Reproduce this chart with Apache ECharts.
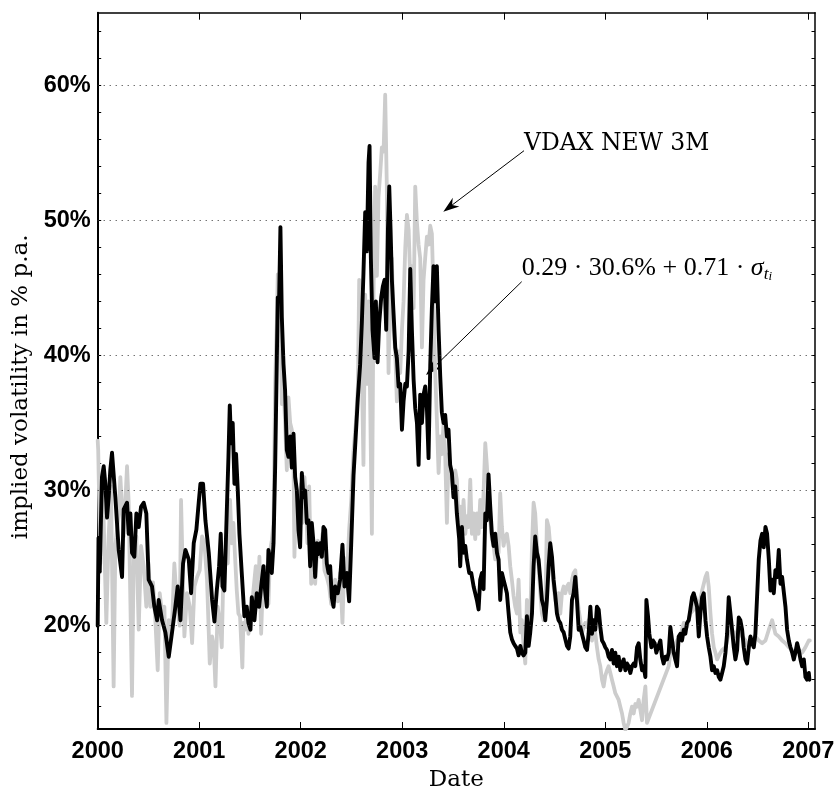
<!DOCTYPE html>
<html>
<head>
<meta charset="utf-8">
<script src="https://cdn.jsdelivr.net/npm/echarts@6/dist/echarts.min.js"></script>
<style>
  html, body { margin: 0; padding: 0; background: #ffffff; }
  #chart { width: 839px; height: 790px; }
</style>
</head>
<body>
<div id="chart"></div>
<script>
// Each pair: [years elapsed since 1 Jan 2000, implied volatility in % p.a.]
const epochYear = 2000;

// VDAX NEW 3M quotes
const vdaxNew3M = [
  [0.000, 33.7], [0.005, 33.0], [0.026, 24.6], [0.042, 30.3], [0.059, 27.8], [0.085, 20.2],
  [0.108, 26.6], [0.131, 30.3], [0.157, 15.5], [0.174, 25.9], [0.207, 28.3], [0.223, 31.0],
  [0.256, 26.6], [0.289, 31.8], [0.305, 29.1], [0.338, 14.8], [0.355, 25.4], [0.381, 26.6],
  [0.404, 19.7], [0.427, 25.9], [0.453, 24.4], [0.479, 21.4], [0.502, 24.6], [0.519, 21.4],
  [0.545, 23.2], [0.568, 20.4], [0.591, 16.7], [0.611, 22.4], [0.634, 20.9], [0.657, 21.4],
  [0.677, 12.8], [0.700, 20.4], [0.732, 20.0], [0.755, 24.6], [0.782, 21.4], [0.808, 20.0],
  [0.821, 29.3], [0.841, 22.9], [0.854, 19.2], [0.880, 22.4], [0.907, 21.4], [0.930, 18.7],
  [0.953, 22.9], [0.979, 23.6], [1.005, 24.1], [1.028, 26.6], [1.051, 26.1], [1.077, 23.4],
  [1.104, 17.2], [1.127, 19.2], [1.143, 18.5], [1.160, 15.5], [1.182, 21.4], [1.205, 20.2],
  [1.222, 18.4], [1.238, 23.9], [1.261, 25.1], [1.281, 24.6], [1.304, 29.3], [1.320, 26.1],
  [1.337, 27.6], [1.353, 25.1], [1.370, 22.6], [1.386, 20.9], [1.402, 20.7], [1.425, 16.9],
  [1.435, 20.2], [1.452, 19.7], [1.468, 21.4], [1.485, 19.4], [1.501, 20.4], [1.518, 21.2],
  [1.534, 22.6], [1.557, 24.4], [1.577, 21.4], [1.593, 25.1], [1.610, 19.4], [1.633, 24.4],
  [1.649, 23.1], [1.666, 24.4], [1.682, 21.6], [1.699, 25.6], [1.715, 26.3], [1.732, 27.6],
  [1.748, 37.9], [1.764, 42.3], [1.774, 46.0], [1.787, 44.1], [1.800, 42.8], [1.814, 36.4],
  [1.830, 37.9], [1.846, 35.0], [1.863, 31.5], [1.879, 36.9], [1.896, 35.0], [1.912, 34.5],
  [1.929, 32.0], [1.938, 25.1], [1.955, 30.0], [1.971, 26.8], [1.984, 28.5], [2.004, 30.5],
  [2.017, 27.6], [2.037, 31.0], [2.050, 29.3], [2.066, 26.1], [2.083, 30.3], [2.103, 23.1],
  [2.126, 25.6], [2.142, 23.1], [2.168, 26.3], [2.192, 25.1], [2.215, 26.8], [2.234, 24.1],
  [2.257, 23.6], [2.280, 22.9], [2.300, 21.6], [2.323, 23.1], [2.339, 23.4], [2.365, 21.8],
  [2.388, 23.9], [2.411, 20.2], [2.431, 25.0], [2.454, 23.4], [2.477, 27.1], [2.497, 29.2],
  [2.520, 32.9], [2.543, 35.0], [2.563, 37.7], [2.576, 45.6], [2.595, 41.9], [2.618, 31.9],
  [2.635, 44.5], [2.651, 37.9], [2.668, 44.0], [2.684, 36.6], [2.701, 26.8], [2.717, 44.5],
  [2.733, 52.5], [2.750, 45.9], [2.766, 51.7], [2.783, 53.5], [2.799, 55.4], [2.816, 55.1],
  [2.832, 59.3], [2.848, 52.5], [2.865, 38.7], [2.881, 44.5], [2.898, 47.2], [2.915, 41.9],
  [2.931, 40.3], [2.947, 36.6], [2.964, 40.3], [2.980, 38.7], [2.997, 41.9], [3.013, 44.0],
  [3.030, 48.0], [3.046, 50.4], [3.063, 49.3], [3.079, 45.6], [3.095, 46.6], [3.112, 43.5],
  [3.128, 52.5], [3.145, 49.8], [3.161, 48.2], [3.177, 47.2], [3.194, 40.6], [3.210, 45.6],
  [3.226, 47.2], [3.243, 48.8], [3.259, 48.2], [3.276, 49.6], [3.292, 49.0], [3.308, 44.5],
  [3.325, 38.7], [3.341, 35.3], [3.358, 31.3], [3.374, 34.0], [3.390, 32.7], [3.407, 35.0],
  [3.423, 32.7], [3.440, 27.6], [3.456, 32.7], [3.472, 31.3], [3.489, 30.8], [3.505, 29.7],
  [3.522, 31.5], [3.538, 30.8], [3.555, 27.8], [3.571, 28.8], [3.588, 27.3], [3.604, 29.3],
  [3.621, 26.8], [3.637, 28.1], [3.653, 27.3], [3.670, 30.8], [3.686, 26.8], [3.703, 28.3],
  [3.719, 26.4], [3.735, 28.3], [3.752, 26.8], [3.768, 29.3], [3.785, 27.3], [3.801, 29.8],
  [3.818, 33.5], [3.834, 31.8], [3.850, 29.6], [3.867, 27.8], [3.883, 26.4], [3.900, 25.9],
  [3.916, 24.9], [3.933, 25.9], [3.949, 25.4], [3.965, 29.8], [3.982, 27.3], [3.998, 25.9],
  [4.015, 26.6], [4.031, 26.8], [4.048, 25.9], [4.064, 24.4], [4.080, 23.4], [4.097, 22.2],
  [4.113, 21.4], [4.130, 20.9], [4.146, 23.4], [4.163, 19.5], [4.179, 20.4], [4.195, 18.5],
  [4.212, 17.2], [4.228, 21.9], [4.245, 20.9], [4.261, 20.4], [4.278, 25.9], [4.294, 29.1],
  [4.310, 28.3], [4.327, 25.9], [4.343, 24.4], [4.360, 22.4], [4.376, 20.9], [4.393, 20.4],
  [4.409, 20.9], [4.425, 27.8], [4.442, 27.3], [4.458, 25.9], [4.475, 24.4], [4.491, 22.9],
  [4.508, 21.9], [4.524, 21.4], [4.540, 22.4], [4.557, 20.9], [4.573, 22.4], [4.590, 22.9],
  [4.606, 22.4], [4.623, 22.9], [4.639, 23.1], [4.655, 22.4], [4.672, 23.4], [4.688, 23.9],
  [4.705, 24.1], [4.721, 22.4], [4.738, 21.2], [4.754, 20.4], [4.770, 19.4], [4.787, 19.9],
  [4.803, 20.2], [4.820, 19.9], [4.836, 20.4], [4.853, 19.7], [4.869, 18.9], [4.885, 20.4],
  [4.902, 19.4], [4.918, 18.4], [4.935, 17.5], [4.951, 17.0], [4.968, 16.0], [4.984, 15.5],
  [5.000, 16.3], [5.017, 16.7], [5.033, 17.0], [5.050, 16.5], [5.066, 16.0], [5.083, 15.5],
  [5.099, 15.0], [5.115, 15.0], [5.132, 14.5], [5.148, 14.0], [5.165, 13.5], [5.181, 12.8],
  [5.198, 12.3], [5.214, 12.5], [5.230, 12.8], [5.247, 13.5], [5.263, 14.0], [5.280, 13.5],
  [5.296, 14.2], [5.313, 14.0], [5.329, 14.5], [5.345, 13.8], [5.362, 13.0], [5.378, 14.5],
  [5.395, 15.5], [5.411, 12.8], [5.625, 17.0], [5.641, 18.0], [5.674, 18.4], [5.707, 18.9],
  [5.740, 19.2], [5.773, 20.2], [5.805, 19.9], [5.838, 20.9], [5.871, 21.2], [5.888, 22.1],
  [5.921, 21.4], [5.954, 22.6], [5.987, 23.6], [6.003, 23.9], [6.019, 22.9], [6.036, 20.9],
  [6.052, 19.4], [6.069, 18.4], [6.085, 18.0], [6.102, 17.5], [6.118, 17.5], [6.134, 18.0],
  [6.151, 18.2], [6.184, 18.4], [6.216, 19.4], [6.249, 19.7], [6.282, 19.2], [6.315, 19.9],
  [6.348, 19.2], [6.381, 18.9], [6.414, 18.4], [6.446, 18.9], [6.479, 19.2], [6.512, 18.9],
  [6.545, 18.7], [6.578, 18.9], [6.611, 19.7], [6.644, 20.4], [6.660, 19.9], [6.676, 19.4],
  [6.709, 19.2], [6.742, 18.9], [6.775, 18.7], [6.808, 18.4], [6.841, 18.2], [6.873, 18.0],
  [6.906, 18.2], [6.939, 18.0], [6.972, 18.4], [7.005, 18.9], [7.015, 18.9]
];

// 0.29 * 30.6% + 0.71 * sigma_{t_i}
const blendedModel = [
  [0.000, 20.0], [0.008, 26.5], [0.020, 24.0], [0.042, 31.0], [0.059, 31.8], [0.075, 30.5],
  [0.092, 28.0], [0.108, 29.5], [0.124, 31.5], [0.141, 32.8], [0.174, 29.5], [0.207, 25.6],
  [0.240, 23.6], [0.256, 28.6], [0.289, 29.1], [0.305, 26.8], [0.322, 28.3], [0.338, 25.4],
  [0.361, 25.1], [0.381, 28.3], [0.404, 27.3], [0.427, 28.8], [0.453, 29.1], [0.479, 28.3],
  [0.502, 23.4], [0.535, 22.9], [0.558, 21.4], [0.585, 20.4], [0.601, 21.9], [0.634, 20.4],
  [0.667, 19.5], [0.700, 17.7], [0.732, 19.5], [0.765, 21.4], [0.788, 22.9], [0.815, 20.4],
  [0.841, 24.6], [0.864, 25.6], [0.897, 24.9], [0.920, 22.4], [0.946, 26.1], [0.972, 27.1],
  [0.995, 29.1], [1.012, 30.5], [1.038, 30.5], [1.061, 27.8], [1.094, 25.4], [1.127, 21.9],
  [1.150, 20.3], [1.173, 22.6], [1.196, 24.4], [1.212, 26.8], [1.229, 22.9], [1.248, 22.6],
  [1.271, 28.3], [1.288, 32.5], [1.301, 36.3], [1.314, 33.5], [1.330, 35.0], [1.347, 30.5],
  [1.363, 32.7], [1.380, 30.0], [1.396, 26.8], [1.419, 23.9], [1.445, 20.7], [1.468, 21.4],
  [1.485, 20.2], [1.505, 19.7], [1.518, 22.1], [1.544, 20.4], [1.567, 22.4], [1.590, 21.4],
  [1.610, 22.9], [1.633, 24.4], [1.649, 22.6], [1.666, 21.4], [1.682, 25.6], [1.699, 24.9],
  [1.715, 23.9], [1.732, 26.1], [1.748, 31.7], [1.764, 39.4], [1.774, 44.3], [1.787, 44.1],
  [1.800, 49.5], [1.814, 42.8], [1.830, 39.4], [1.846, 37.4], [1.863, 33.0], [1.879, 32.5],
  [1.896, 34.0], [1.912, 31.7], [1.929, 34.2], [1.945, 31.0], [1.962, 30.0], [1.978, 27.1],
  [1.994, 25.8], [2.011, 31.3], [2.027, 29.5], [2.044, 30.0], [2.060, 27.6], [2.076, 27.8],
  [2.093, 24.4], [2.109, 27.6], [2.126, 26.1], [2.142, 23.6], [2.159, 26.1], [2.175, 25.3],
  [2.192, 26.1], [2.208, 25.1], [2.224, 27.3], [2.241, 27.1], [2.257, 24.6], [2.274, 23.9],
  [2.290, 24.4], [2.306, 22.1], [2.323, 21.4], [2.339, 22.9], [2.365, 22.4], [2.388, 23.4],
  [2.411, 26.0], [2.431, 22.9], [2.454, 23.9], [2.477, 21.8], [2.497, 26.0], [2.520, 31.1],
  [2.543, 34.2], [2.563, 36.9], [2.585, 39.3], [2.602, 42.4], [2.618, 46.1], [2.635, 50.6],
  [2.651, 47.7], [2.668, 54.3], [2.678, 55.5], [2.691, 47.2], [2.707, 41.9], [2.727, 39.8],
  [2.740, 44.0], [2.757, 39.5], [2.773, 42.4], [2.793, 44.3], [2.809, 45.1], [2.826, 45.6],
  [2.842, 41.9], [2.859, 49.3], [2.872, 52.5], [2.885, 49.3], [2.898, 45.6], [2.915, 43.0],
  [2.931, 40.6], [2.947, 39.8], [2.964, 37.7], [2.980, 37.9], [2.997, 34.5], [3.013, 36.6],
  [3.030, 37.9], [3.046, 37.7], [3.063, 40.3], [3.079, 46.4], [3.095, 41.9], [3.112, 38.2],
  [3.128, 36.1], [3.145, 35.0], [3.161, 31.9], [3.177, 37.1], [3.194, 35.0], [3.210, 37.1],
  [3.226, 37.7], [3.243, 36.1], [3.259, 32.4], [3.276, 39.3], [3.292, 43.5], [3.308, 46.6],
  [3.325, 44.0], [3.341, 46.6], [3.358, 41.9], [3.374, 38.5], [3.390, 35.8], [3.407, 35.0],
  [3.423, 35.6], [3.440, 34.0], [3.456, 34.5], [3.472, 31.9], [3.489, 31.3], [3.505, 29.5],
  [3.522, 30.3], [3.538, 28.3], [3.561, 26.4], [3.571, 24.4], [3.588, 27.3], [3.604, 25.4],
  [3.621, 25.9], [3.637, 24.9], [3.660, 23.9], [3.680, 23.9], [3.703, 22.9], [3.719, 22.4],
  [3.735, 21.9], [3.752, 21.2], [3.768, 23.4], [3.785, 23.9], [3.801, 22.7], [3.818, 28.3],
  [3.834, 27.8], [3.850, 31.2], [3.867, 28.8], [3.883, 26.8], [3.900, 25.9], [3.916, 26.8],
  [3.933, 25.4], [3.949, 24.9], [3.965, 21.9], [3.982, 23.9], [3.998, 23.4], [4.015, 22.9],
  [4.031, 22.4], [4.048, 20.9], [4.064, 19.5], [4.080, 19.0], [4.097, 18.7], [4.113, 18.5],
  [4.130, 18.3], [4.146, 17.8], [4.163, 18.5], [4.179, 18.0], [4.195, 17.8], [4.212, 18.0],
  [4.228, 20.7], [4.245, 18.5], [4.261, 19.5], [4.278, 20.9], [4.294, 24.4], [4.310, 26.6],
  [4.327, 25.4], [4.343, 24.9], [4.360, 23.4], [4.376, 21.9], [4.393, 21.4], [4.409, 20.4],
  [4.425, 21.9], [4.442, 24.4], [4.458, 26.1], [4.475, 25.1], [4.491, 23.4], [4.508, 22.2],
  [4.524, 20.9], [4.540, 20.4], [4.557, 20.2], [4.573, 19.7], [4.590, 19.5], [4.606, 19.0],
  [4.623, 18.5], [4.639, 18.3], [4.655, 19.2], [4.672, 21.9], [4.688, 22.4], [4.705, 23.6],
  [4.721, 21.9], [4.738, 19.7], [4.754, 19.9], [4.770, 19.4], [4.787, 18.9], [4.803, 18.4],
  [4.820, 18.2], [4.836, 19.4], [4.853, 21.4], [4.869, 19.4], [4.885, 20.4], [4.902, 19.7],
  [4.918, 21.4], [4.935, 21.2], [4.951, 19.9], [4.968, 18.9], [4.984, 18.7], [5.000, 18.4],
  [5.017, 18.2], [5.033, 17.7], [5.050, 17.5], [5.066, 18.2], [5.083, 17.2], [5.099, 18.0],
  [5.115, 17.0], [5.132, 17.7], [5.148, 16.7], [5.165, 17.2], [5.181, 17.5], [5.198, 16.7],
  [5.214, 17.2], [5.230, 17.0], [5.247, 16.5], [5.263, 17.0], [5.280, 17.2], [5.296, 17.0],
  [5.313, 18.4], [5.329, 18.7], [5.345, 17.5], [5.362, 16.7], [5.378, 17.0], [5.395, 16.2],
  [5.405, 21.9], [5.421, 20.7], [5.434, 19.4], [5.454, 18.4], [5.470, 18.9], [5.487, 18.7],
  [5.503, 18.0], [5.520, 18.4], [5.543, 18.9], [5.559, 17.7], [5.575, 17.2], [5.592, 17.7],
  [5.608, 17.5], [5.625, 18.0], [5.641, 19.9], [5.658, 19.9], [5.674, 18.0], [5.690, 17.5],
  [5.707, 17.0], [5.723, 19.2], [5.740, 19.4], [5.756, 18.9], [5.773, 19.7], [5.789, 19.4],
  [5.805, 20.2], [5.822, 20.4], [5.838, 21.2], [5.855, 22.1], [5.871, 22.4], [5.888, 22.4],
  [5.904, 21.4], [5.921, 19.2], [5.937, 20.9], [5.954, 22.1], [5.970, 22.4], [5.987, 20.4],
  [6.003, 19.2], [6.019, 18.4], [6.036, 17.7], [6.052, 16.7], [6.069, 17.0], [6.085, 16.5],
  [6.102, 16.7], [6.118, 16.2], [6.134, 16.0], [6.151, 16.5], [6.167, 17.0], [6.184, 18.0],
  [6.200, 19.4], [6.216, 22.1], [6.233, 20.9], [6.249, 19.7], [6.266, 18.4], [6.282, 17.5],
  [6.299, 18.2], [6.315, 20.6], [6.331, 20.4], [6.348, 19.7], [6.364, 18.4], [6.381, 17.5],
  [6.397, 17.2], [6.414, 18.4], [6.430, 19.2], [6.446, 18.7], [6.463, 18.4], [6.479, 19.4],
  [6.496, 19.4], [6.512, 24.9], [6.529, 26.3], [6.545, 26.8], [6.561, 25.8], [6.578, 27.3],
  [6.594, 26.8], [6.611, 24.9], [6.627, 22.6], [6.644, 23.4], [6.660, 22.4], [6.676, 24.1],
  [6.693, 23.6], [6.709, 25.6], [6.726, 23.1], [6.742, 23.6], [6.758, 23.6], [6.775, 21.4],
  [6.791, 19.7], [6.808, 18.9], [6.824, 18.4], [6.841, 18.0], [6.857, 17.5], [6.873, 18.0],
  [6.890, 18.7], [6.906, 18.2], [6.923, 17.5], [6.939, 17.0], [6.956, 17.5], [6.972, 16.2],
  [6.988, 16.0], [7.005, 16.5], [7.011, 16.0]
];

// Axis ticks and labels
const yearTicks = [2000, 2001, 2002, 2003, 2004, 2005, 2006, 2007];
const pctLabels = [20, 30, 40, 50, 60];
const pctTicks = [14, 16, 18, 20, 22, 24, 26, 28, 30, 32, 34, 36, 38, 40, 42, 44, 46, 48, 50, 52, 54, 56, 58, 60, 62, 64];
const xRange = [2000, 2007.066];
const yRange = [12.35, 65.37];

const toSeries = rows => rows.map(([t, v]) => [epochYear + t, v]);

const chart = echarts.init(document.getElementById('chart'), null, { renderer: 'canvas' });

const tickFont = { fontFamily: '"Liberation Sans", Arial, sans-serif', fontWeight: 'bold', fontSize: 23.5, color: '#000' };
const serifName = { fontFamily: '"DejaVu Serif", serif', fontSize: 23, color: '#000' };

// Arrow with a swept-back filled head
function arrow(x1, y1, x2, y2) {
  const dx = x2 - x1, dy = y2 - y1, len = Math.hypot(dx, dy);
  const ux = dx / len, uy = dy / len, nx = -uy, ny = ux;
  const L = 16, W = 5.5, notch = 11;
  return [
    { type: 'line', silent: true, shape: { x1, y1, x2: x2 - ux * notch, y2: y2 - uy * notch },
      style: { stroke: '#000', lineWidth: 1 } },
    { type: 'polygon', silent: true, shape: { points: [
        [x2, y2],
        [x2 - ux * L + nx * W, y2 - uy * L + ny * W],
        [x2 - ux * notch, y2 - uy * notch],
        [x2 - ux * L - nx * W, y2 - uy * L - ny * W]
      ] }, style: { fill: '#000' } }
  ];
}

const option = {
  animation: false,
  backgroundColor: '#ffffff',
  grid: { left: 97.7, right: 24, top: 12.7, bottom: 61, containLabel: false, outerBoundsMode: 'none' },
  xAxis: [
    {
      type: 'value', min: xRange[0], max: xRange[1], position: 'bottom',
      axisLine: { show: true, onZero: false, lineStyle: { color: '#000', width: 2 } },
      axisTick: { show: true, inside: true, length: 7, customValues: yearTicks, lineStyle: { color: '#000', width: 1 } },
      axisLabel: Object.assign({ show: true, margin: 10.5, customValues: yearTicks, formatter: v => String(Math.round(v)) }, tickFont),
      splitLine: { show: false },
      name: 'Date', nameLocation: 'middle', nameGap: 33, nameTextStyle: serifName
    },
    {
      type: 'value', min: xRange[0], max: xRange[1], position: 'top',
      axisLine: { show: true, onZero: false, lineStyle: { color: '#000', width: 1.5 } },
      axisTick: { show: true, inside: true, length: 7, customValues: yearTicks, lineStyle: { color: '#000', width: 1 } },
      axisLabel: { show: false },
      splitLine: { show: false }
    }
  ],
  yAxis: [
    {
      type: 'value', min: yRange[0], max: yRange[1], position: 'left',
      axisLine: { show: true, onZero: false, lineStyle: { color: '#000', width: 2 } },
      axisTick: { show: true, inside: true, length: 3.5, customValues: pctTicks, lineStyle: { color: '#000', width: 1 } },
      axisLabel: Object.assign({ show: true, margin: 7, customValues: pctLabels, formatter: v => Math.round(v) + '%' }, tickFont),
      splitLine: { show: false },
      name: 'implied volatility in % p.a.', nameLocation: 'middle', nameRotate: 90, nameGap: 64,
      nameTextStyle: Object.assign({ padding: [0, 32, 0, 0] }, serifName)
    },
    {
      type: 'value', min: yRange[0], max: yRange[1], position: 'right',
      axisLine: { show: true, onZero: false, lineStyle: { color: '#000', width: 1.5 } },
      axisTick: { show: true, inside: true, length: 3.5, customValues: pctTicks, lineStyle: { color: '#000', width: 1 } },
      axisLabel: { show: false },
      splitLine: { show: false }
    }
  ],
  series: [
    {
      name: 'grid', type: 'line', data: [], z: 1, silent: true, xAxisIndex: 0, yAxisIndex: 0,
      markLine: {
        silent: true, animation: false, symbol: ['none', 'none'], label: { show: false },
        lineStyle: { type: [1, 5], color: '#333', width: 1 },
        emphasis: { disabled: true },
        data: pctLabels.map(v => ({ yAxis: v }))
      }
    },
    {
      name: 'VDAX NEW 3M', type: 'line', data: toSeries(vdaxNew3M), z: 2,
      showSymbol: false, symbol: 'none', silent: true, clip: true,
      lineStyle: { color: '#cccccc', width: 3.8, join: 'round', cap: 'round' }
    },
    {
      name: 'blended', type: 'line', data: toSeries(blendedModel), z: 3,
      showSymbol: false, symbol: 'none', silent: true, clip: true,
      lineStyle: { color: '#000000', width: 3.9, join: 'round', cap: 'round' }
    }
  ],
  graphic: [
    { type: 'text', silent: true, x: 524, y: 144, z: 10,
      style: { text: 'VDAX NEW 3M', fill: '#000', font: '23.5px "DejaVu Serif", serif', align: 'left', verticalAlign: 'middle' } },
    { type: 'text', silent: true, x: 521.7, y: 268.3, z: 10,
      style: {
        text: '0.29 · 30.6% + 0.71 · {s|σ}{t|t}{i|i}',
        fill: '#000', font: '26px "Liberation Serif", serif', lineHeight: 30,
        align: 'left', verticalAlign: 'middle',
        rich: {
          s: { font: 'italic 26px "Liberation Serif", serif', lineHeight: 30 },
          t: { font: 'italic 17.5px "Liberation Serif", serif', lineHeight: 17, verticalAlign: 'bottom' },
          i: { font: 'italic 13px "Liberation Serif", serif', lineHeight: 13, verticalAlign: 'bottom' }
        }
      } }
  ].concat(arrow(524, 150.7, 443.3, 211.7), arrow(521.7, 281.7, 426, 375))
};

chart.setOption(option);
</script>
</body>
</html>
